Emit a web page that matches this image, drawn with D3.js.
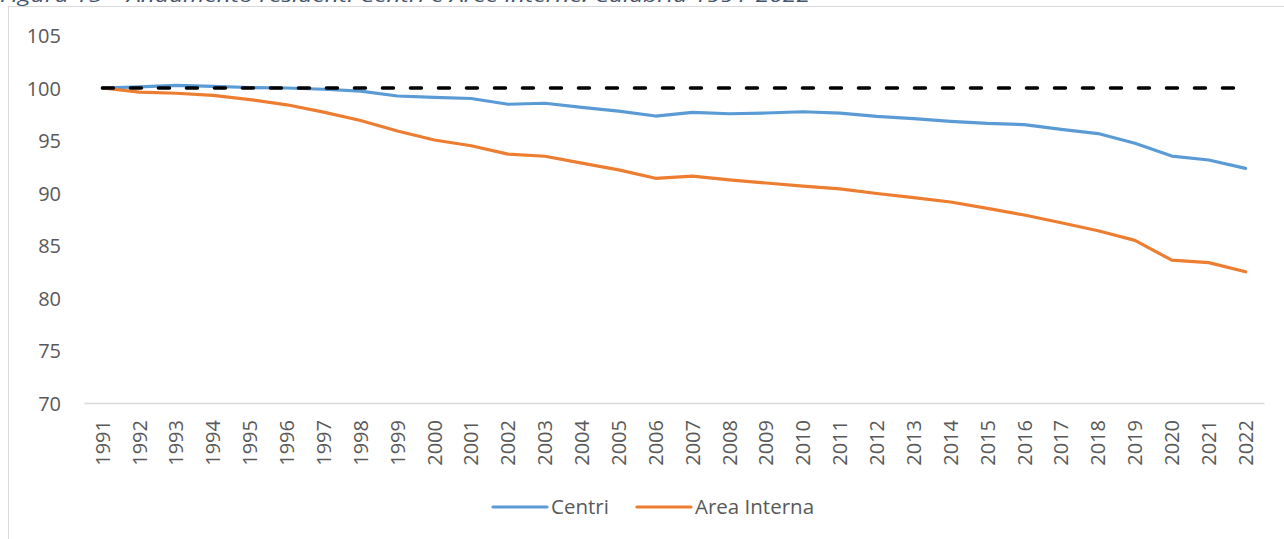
<!DOCTYPE html>
<html><head><meta charset="utf-8">
<script src="https://cdn.jsdelivr.net/npm/d3@7/dist/d3.min.js"></script>
<style>
html,body{margin:0;padding:0;background:#fff;overflow:hidden;}
svg{display:block;}
</style></head>
<body>
<script>
const years = [1991,1992,1993,1994,1995,1996,1997,1998,1999,2000,2001,2002,2003,2004,2005,2006,2007,2008,2009,2010,2011,2012,2013,2014,2015,2016,2017,2018,2019,2020,2021,2022];
const centri = [100,100.1,100.25,100.15,100.05,100.0,99.88,99.7,99.24,99.1,99.0,98.45,98.55,98.15,97.8,97.33,97.68,97.55,97.62,97.74,97.6,97.3,97.08,96.82,96.63,96.52,96.06,95.66,94.74,93.52,93.14,92.35];
const areaInterna = [100,99.6,99.5,99.3,98.9,98.4,97.7,96.9,95.9,95.05,94.5,93.7,93.5,92.85,92.2,91.4,91.6,91.25,90.95,90.65,90.4,89.95,89.56,89.14,88.54,87.9,87.17,86.41,85.49,83.6,83.37,82.5];
const baseline = years.map(() => 100);
const yTicks = [70,75,80,85,90,95,100,105];
const seriesNames = ["Centri","Area Interna"];
const colors = ["#5B9BD5","#ED7D31"];
const titleText = "Figura 15 – Andamento residenti Centri e Aree Interne. Calabria 1991-2022";

const W = 1284, H = 539;
const svg = d3.select("body").append("svg").attr("width", W).attr("height", H);
const font = "'Open Sans', sans-serif";

// chart border
svg.append("rect").attr("x", 8.5).attr("y", 6.5).attr("width", W + 10).attr("height", H + 10)
  .attr("fill", "none").attr("stroke", "#D9D9D9").attr("stroke-width", 1);

// title (cropped at top, as in the reference)
svg.append("text").attr("x", 0).attr("y", 1.5)
  .attr("font-family", font).attr("font-style", "italic").attr("font-size", 18)
  .attr("fill", "#44546A").attr("textLength", 810).attr("lengthAdjust", "spacingAndGlyphs")
  .text(titleText);

const plotL = 84, plotR = 1264, yTop = 35.5, yBot = 403;
const x = d3.scaleBand().domain(years).range([plotL, plotR]);
const y = d3.scaleLinear().domain([70,105]).range([yBot, yTop]);
const cx = d => x(d) + x.bandwidth()/2;

// y axis labels
const yAxis = d3.axisLeft(y).tickValues(yTicks).tickSize(0).tickPadding(0);
const gy = svg.append("g").attr("transform", "translate(61,0)").call(yAxis);
gy.select(".domain").remove();
gy.selectAll("text").attr("font-family", font).attr("font-size", 20).attr("fill", "#595959").attr("dy", "0.35em");

// x axis
const xAxis = d3.axisBottom(x).tickSize(0).tickPadding(0);
const gx = svg.append("g").attr("transform", `translate(0,${yBot})`).call(xAxis);
gx.select(".domain").attr("stroke", "#D9D9D9").attr("stroke-width", 1.5);
gx.selectAll("text").attr("font-family", font).attr("font-size", 20).attr("fill", "#595959")
  .attr("text-anchor", "end").attr("transform", "rotate(-90)")
  .attr("x", -17).attr("y", 0).attr("dy", "0.36em");

const line = d3.line().x((d,i) => cx(years[i])).y(d => y(d));

[centri, areaInterna].forEach((s, k) => {
  svg.append("path").datum(s).attr("d", line).attr("fill", "none")
    .attr("stroke", colors[k]).attr("stroke-width", 3.2).attr("stroke-linejoin", "round").attr("stroke-linecap", "round");
});
// dashed 100 reference series on top
svg.append("path").datum(baseline).attr("d", line).attr("fill", "none")
  .attr("stroke", "#000").attr("stroke-width", 3.5).attr("stroke-linecap", "round")
  .attr("stroke-dasharray", "11,17");

// legend
const legX = [493, 637];
seriesNames.forEach((n, k) => {
  const g = svg.append("g");
  g.append("line").attr("x1", legX[k]).attr("x2", legX[k] + 54).attr("y1", 507).attr("y2", 507)
    .attr("stroke", colors[k]).attr("stroke-width", 3.2).attr("stroke-linecap", "round");
  g.append("text").attr("x", legX[k] + 58).attr("y", 507).attr("dy", "0.35em")
    .attr("font-family", font).attr("font-size", 20.5).attr("fill", "#595959").text(n);
});
</script>
</body></html>
